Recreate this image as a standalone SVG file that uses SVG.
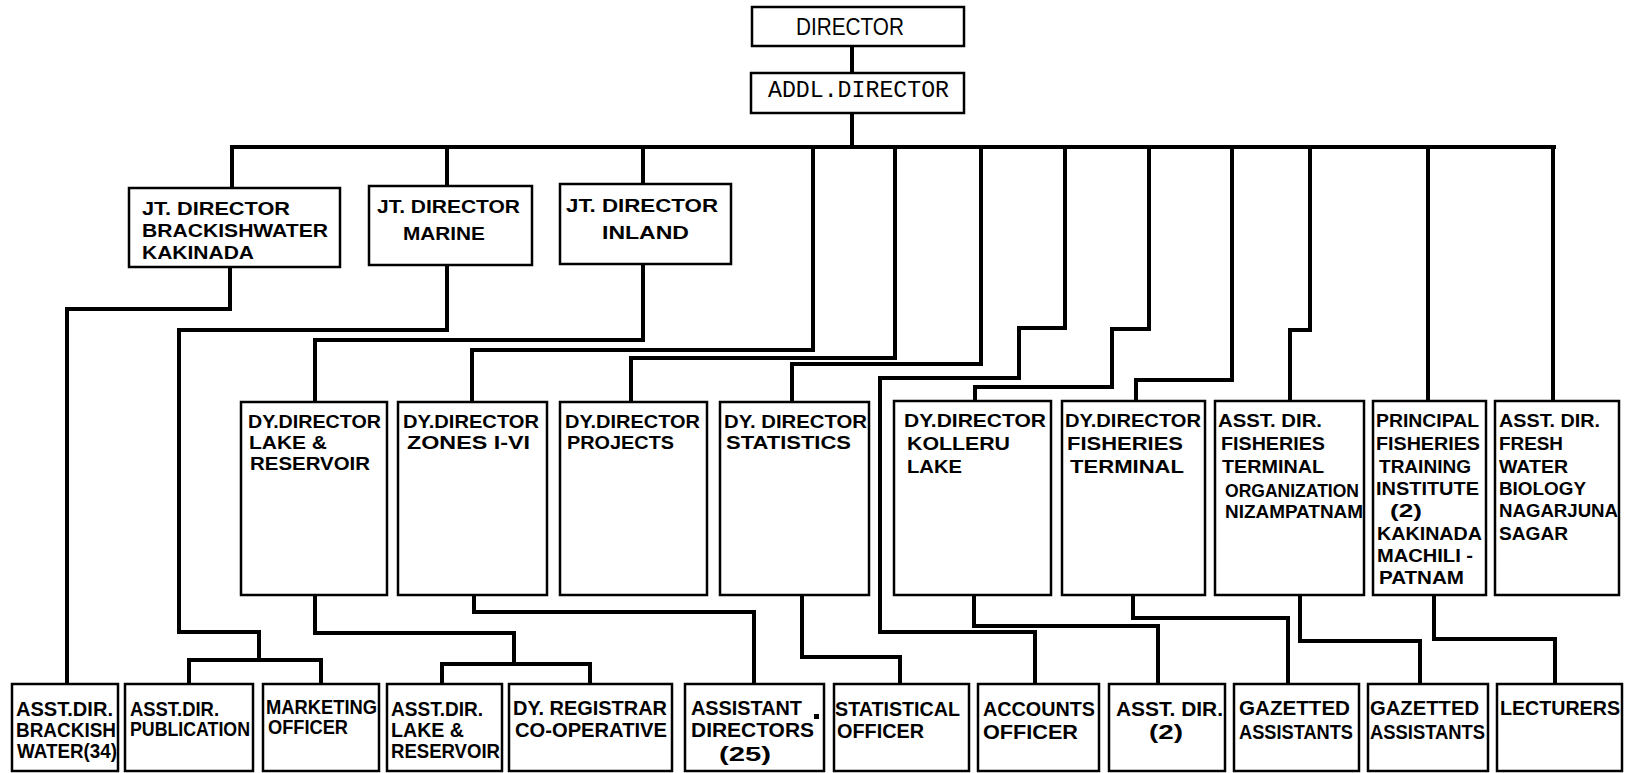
<svg xmlns="http://www.w3.org/2000/svg" width="1633" height="773" viewBox="0 0 1633 773">
<style>
.box{fill:#fff;stroke:#000;stroke-width:2.5}
.ln{fill:none;stroke:#000;stroke-width:4;stroke-linejoin:miter;stroke-linecap:square}
.t{font-family:"Liberation Sans",Arial,sans-serif;font-weight:bold;font-size:19px;fill:#000}
.b{font-family:"Liberation Sans",Arial,sans-serif;font-weight:bold;font-size:20px;fill:#000}
.r{font-family:"Liberation Sans",Arial,sans-serif;font-size:24px;fill:#000}
.m{font-family:"Liberation Mono","Courier New",monospace;font-size:23px;fill:#000}
</style>
<rect width="1633" height="773" fill="#fff"/>
<g id="connectors">
<path class="ln" d="M852,46 V73"/>
<path class="ln" d="M852,113 V147"/>
<path class="ln" d="M232,147 H1554"/>
<path class="ln" d="M232,147 V188"/>
<path class="ln" d="M447,147 V186"/>
<path class="ln" d="M643,147 V184"/>
<path class="ln" d="M230,267 V309 H67 V684"/>
<path class="ln" d="M447,265 V330 H179 V632 H259 V660"/>
<path class="ln" d="M189,684 V660 H321 V684"/>
<path class="ln" d="M643,264 V340 H315 V402"/>
<path class="ln" d="M813,147 V350 H472 V402"/>
<path class="ln" d="M895,147 V358 H631 V402"/>
<path class="ln" d="M981,147 V364 H792 V402"/>
<path class="ln" d="M1065,147 V328 H1019 V378 H880 V632 H1035 V684"/>
<path class="ln" d="M1149,147 V329 H1112 V387 H975 V401"/>
<path class="ln" d="M1232,147 V380 H1136 V401"/>
<path class="ln" d="M1310,147 V330 H1290 V401"/>
<path class="ln" d="M1428,147 V401"/>
<path class="ln" d="M1553,147 V401"/>
<path class="ln" d="M315,595 V633 H514 V664"/>
<path class="ln" d="M442,684 V664 H590 V684"/>
<path class="ln" d="M474,595 V612 H754 V684"/>
<path class="ln" d="M802,595 V657 H900 V684"/>
<path class="ln" d="M974,595 V626 H1158 V684"/>
<path class="ln" d="M1133,595 V618 H1288 V684"/>
<path class="ln" d="M1300,595 V641 H1420 V684"/>
<path class="ln" d="M1434,595 V639 H1555 V684"/>
</g>
<g id="director"><rect class="box" x="752" y="7" width="212" height="39"/><text class="r" x="796" y="35" textLength="108" lengthAdjust="spacingAndGlyphs">DIRECTOR</text></g>
<g id="addl"><rect class="box" x="751" y="73" width="213" height="40"/><text class="m" x="768" y="97" textLength="181" lengthAdjust="spacingAndGlyphs">ADDL.DIRECTOR</text></g>
<g id="jt-brackish"><rect class="box" x="129" y="188" width="211" height="79"/>
<text class="t" x="142" y="215" textLength="148" lengthAdjust="spacingAndGlyphs">JT. DIRECTOR</text>
<text class="t" x="142" y="237" textLength="186" lengthAdjust="spacingAndGlyphs">BRACKISHWATER</text>
<text class="t" x="142" y="259" textLength="112" lengthAdjust="spacingAndGlyphs">KAKINADA</text></g>
<g id="jt-marine"><rect class="box" x="369" y="186" width="163" height="79"/>
<text class="t" x="377" y="213" textLength="143" lengthAdjust="spacingAndGlyphs">JT. DIRECTOR</text>
<text class="t" x="403" y="240" textLength="82" lengthAdjust="spacingAndGlyphs">MARINE</text></g>
<g id="jt-inland"><rect class="box" x="560" y="184" width="171" height="80"/>
<text class="t" x="566" y="212" textLength="152" lengthAdjust="spacingAndGlyphs">JT. DIRECTOR</text>
<text class="t" x="602" y="239" textLength="87" lengthAdjust="spacingAndGlyphs">INLAND</text></g>
<g id="dy-lake"><rect class="box" x="241" y="402" width="146" height="193"/>
<text class="t" x="248" y="428" textLength="133" lengthAdjust="spacingAndGlyphs">DY.DIRECTOR</text>
<text class="t" x="249" y="449" textLength="78" lengthAdjust="spacingAndGlyphs">LAKE &amp;</text>
<text class="t" x="250" y="470" textLength="120" lengthAdjust="spacingAndGlyphs">RESERVOIR</text></g>
<g id="dy-zones"><rect class="box" x="398" y="402" width="149" height="193"/>
<text class="t" x="403" y="428" textLength="136" lengthAdjust="spacingAndGlyphs">DY.DIRECTOR</text>
<text class="t" x="407" y="449" textLength="123" lengthAdjust="spacingAndGlyphs">ZONES I-VI</text></g>
<g id="dy-projects"><rect class="box" x="560" y="402" width="147" height="193"/>
<text class="t" x="565" y="428" textLength="135" lengthAdjust="spacingAndGlyphs">DY.DIRECTOR</text>
<text class="t" x="567" y="449" textLength="107" lengthAdjust="spacingAndGlyphs">PROJECTS</text></g>
<g id="dy-statistics"><rect class="box" x="720" y="402" width="149" height="193"/>
<text class="t" x="724" y="428" textLength="143" lengthAdjust="spacingAndGlyphs">DY. DIRECTOR</text>
<text class="t" x="726" y="449" textLength="125" lengthAdjust="spacingAndGlyphs">STATISTICS</text></g>
<g id="dy-kolleru"><rect class="box" x="894" y="401" width="157" height="194"/>
<text class="t" x="904" y="427" textLength="142" lengthAdjust="spacingAndGlyphs">DY.DIRECTOR</text>
<text class="t" x="907" y="450" textLength="103" lengthAdjust="spacingAndGlyphs">KOLLERU</text>
<text class="t" x="907" y="473" textLength="55" lengthAdjust="spacingAndGlyphs">LAKE</text></g>
<g id="dy-terminal"><rect class="box" x="1062" y="401" width="143" height="194"/>
<text class="t" x="1065" y="427" textLength="136" lengthAdjust="spacingAndGlyphs">DY.DIRECTOR</text>
<text class="t" x="1067" y="450" textLength="116" lengthAdjust="spacingAndGlyphs">FISHERIES</text>
<text class="t" x="1070" y="473" textLength="114" lengthAdjust="spacingAndGlyphs">TERMINAL</text></g>
<g id="ad-fto"><rect class="box" x="1215" y="401" width="149" height="194"/>
<text class="t" x="1218" y="427" textLength="104" lengthAdjust="spacingAndGlyphs">ASST. DIR.</text>
<text class="t" x="1221" y="450" textLength="104" lengthAdjust="spacingAndGlyphs">FISHERIES</text>
<text class="t" x="1222" y="473" textLength="102" lengthAdjust="spacingAndGlyphs">TERMINAL</text>
<text class="t" x="1225" y="497" textLength="134" lengthAdjust="spacingAndGlyphs">ORGANIZATION</text>
<text class="t" x="1225" y="518" textLength="138" lengthAdjust="spacingAndGlyphs">NIZAMPATNAM</text></g>
<g id="principal"><rect class="box" x="1373" y="401" width="113" height="194"/>
<text class="t" x="1376" y="427" textLength="103" lengthAdjust="spacingAndGlyphs">PRINCIPAL</text>
<text class="t" x="1376" y="450" textLength="104" lengthAdjust="spacingAndGlyphs">FISHERIES</text>
<text class="t" x="1379" y="473" textLength="92" lengthAdjust="spacingAndGlyphs">TRAINING</text>
<text class="t" x="1376" y="495" textLength="103" lengthAdjust="spacingAndGlyphs">INSTITUTE</text>
<text class="t" x="1390" y="517" textLength="32" lengthAdjust="spacingAndGlyphs">(2)</text>
<text class="t" x="1377" y="540" textLength="105" lengthAdjust="spacingAndGlyphs">KAKINADA</text>
<text class="t" x="1377" y="562" textLength="96" lengthAdjust="spacingAndGlyphs">MACHILI -</text>
<text class="t" x="1379" y="584" textLength="85" lengthAdjust="spacingAndGlyphs">PATNAM</text></g>
<g id="ad-freshwater"><rect class="box" x="1495" y="401" width="124" height="194"/>
<text class="t" x="1499" y="427" textLength="101" lengthAdjust="spacingAndGlyphs">ASST. DIR.</text>
<text class="t" x="1499" y="450" textLength="64" lengthAdjust="spacingAndGlyphs">FRESH</text>
<text class="t" x="1499" y="473" textLength="69" lengthAdjust="spacingAndGlyphs">WATER</text>
<text class="t" x="1499" y="495" textLength="87" lengthAdjust="spacingAndGlyphs">BIOLOGY</text>
<text class="t" x="1499" y="517" textLength="119" lengthAdjust="spacingAndGlyphs">NAGARJUNA</text>
<text class="t" x="1499" y="540" textLength="69" lengthAdjust="spacingAndGlyphs">SAGAR</text></g>
<g id="ad-brackish"><rect class="box" x="12" y="684" width="106" height="87"/>
<text class="b" x="16" y="716" textLength="97" lengthAdjust="spacingAndGlyphs">ASST.DIR.</text>
<text class="b" x="16" y="737" textLength="100" lengthAdjust="spacingAndGlyphs">BRACKISH</text>
<text class="b" x="17" y="758" textLength="100" lengthAdjust="spacingAndGlyphs">WATER(34)</text></g>
<g id="ad-publication"><rect class="box" x="125" y="684" width="128" height="87"/>
<text class="b" x="130" y="716" textLength="89" lengthAdjust="spacingAndGlyphs">ASST.DIR.</text>
<text class="b" x="130" y="736" textLength="120" lengthAdjust="spacingAndGlyphs">PUBLICATION</text></g>
<g id="marketing"><rect class="box" x="263" y="684" width="116" height="87"/>
<text class="b" x="266" y="714" textLength="111" lengthAdjust="spacingAndGlyphs">MARKETING</text>
<text class="b" x="268" y="734" textLength="80" lengthAdjust="spacingAndGlyphs">OFFICER</text></g>
<g id="ad-lake"><rect class="box" x="387" y="684" width="115" height="87"/>
<text class="b" x="391" y="716" textLength="92" lengthAdjust="spacingAndGlyphs">ASST.DIR.</text>
<text class="b" x="391" y="737" textLength="73" lengthAdjust="spacingAndGlyphs">LAKE &amp;</text>
<text class="b" x="391" y="758" textLength="109" lengthAdjust="spacingAndGlyphs">RESERVOIR</text></g>
<g id="registrar"><rect class="box" x="509" y="684" width="163" height="87"/>
<text class="b" x="513" y="715" textLength="154" lengthAdjust="spacingAndGlyphs">DY. REGISTRAR</text>
<text class="b" x="515" y="737" textLength="152" lengthAdjust="spacingAndGlyphs">CO-OPERATIVE</text></g>
<g id="assistant-directors"><rect class="box" x="685" y="684" width="139" height="87"/>
<text class="b" x="691" y="715" textLength="111" lengthAdjust="spacingAndGlyphs">ASSISTANT</text>
<text class="b" x="691" y="737" textLength="123" lengthAdjust="spacingAndGlyphs">DIRECTORS</text>
<rect x="814" y="714" width="5" height="5" fill="#000"/>
<text class="b" x="719" y="761" textLength="52" lengthAdjust="spacingAndGlyphs">(25)</text></g>
<g id="statistical"><rect class="box" x="834" y="684" width="135" height="87"/>
<text class="b" x="835" y="716" textLength="125" lengthAdjust="spacingAndGlyphs">STATISTICAL</text>
<text class="b" x="837" y="738" textLength="87" lengthAdjust="spacingAndGlyphs">OFFICER</text></g>
<g id="accounts"><rect class="box" x="978" y="684" width="121" height="87"/>
<text class="b" x="983" y="716" textLength="112" lengthAdjust="spacingAndGlyphs">ACCOUNTS</text>
<text class="b" x="983" y="739" textLength="95" lengthAdjust="spacingAndGlyphs">OFFICER</text></g>
<g id="ad-2"><rect class="box" x="1109" y="684" width="116" height="87"/>
<text class="b" x="1116" y="716" textLength="107" lengthAdjust="spacingAndGlyphs">ASST. DIR.</text>
<text class="b" x="1149" y="739" textLength="34" lengthAdjust="spacingAndGlyphs">(2)</text></g>
<g id="gazetted-1"><rect class="box" x="1234" y="684" width="125" height="87"/>
<text class="b" x="1239" y="715" textLength="111" lengthAdjust="spacingAndGlyphs">GAZETTED</text>
<text class="b" x="1239" y="739" textLength="114" lengthAdjust="spacingAndGlyphs">ASSISTANTS</text></g>
<g id="gazetted-2"><rect class="box" x="1368" y="684" width="120" height="87"/>
<text class="b" x="1370" y="715" textLength="109" lengthAdjust="spacingAndGlyphs">GAZETTED</text>
<text class="b" x="1370" y="739" textLength="115" lengthAdjust="spacingAndGlyphs">ASSISTANTS</text></g>
<g id="lecturers"><rect class="box" x="1497" y="684" width="125" height="87"/>
<text class="b" x="1500" y="715" textLength="120" lengthAdjust="spacingAndGlyphs">LECTURERS</text></g>
</svg>
